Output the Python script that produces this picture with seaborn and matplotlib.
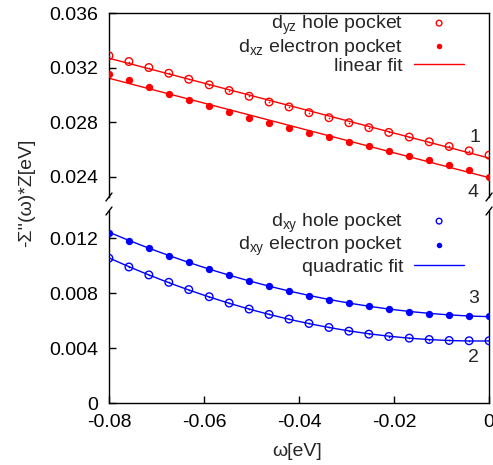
import numpy as np
import matplotlib.pyplot as plt
import seaborn as sns

# frequency grid (eV)
omega = [-0.0800, -0.0758, -0.0716, -0.0674, -0.0632, -0.0589, -0.0547, -0.0505,
         -0.0463, -0.0421, -0.0379, -0.0337, -0.0295, -0.0253, -0.0211, -0.0168,
         -0.0126, -0.0084, -0.0042, 0.0]

# -Sigma''(w)*Z
dyz_hole = [0.03286, 0.03244, 0.03200, 0.03158, 0.03114, 0.03073, 0.03031, 0.02989,
            0.02947, 0.02911, 0.02869, 0.02832, 0.02795, 0.02759, 0.02724, 0.02690,
            0.02655, 0.02621, 0.02589, 0.02557]
dxz_elec = [0.03153, 0.03107, 0.03058, 0.03009, 0.02962, 0.02918, 0.02874, 0.02832,
            0.02795, 0.02759, 0.02722, 0.02687, 0.02653, 0.02621, 0.02587, 0.02552,
            0.02518, 0.02484, 0.02445, 0.02400]
dxy_hole = [0.01056, 0.00992, 0.00934, 0.00880, 0.00827, 0.00775, 0.00729, 0.00685,
            0.00646, 0.00612, 0.00580, 0.00551, 0.00524, 0.00502, 0.00485, 0.00473,
            0.00463, 0.00456, 0.00454, 0.00454]
dxy_elec = [0.01243, 0.01185, 0.01129, 0.01075, 0.01027, 0.00980, 0.00934, 0.00892,
            0.00853, 0.00819, 0.00783, 0.00754, 0.00727, 0.00705, 0.00683, 0.00666,
            0.00651, 0.00644, 0.00637, 0.00632]

xticks = [-0.08, -0.06, -0.04, -0.02, 0]
xticklabels = ["-0.08", "-0.06", "-0.04", "-0.02", "0"]
top_yticks = [0.024, 0.028, 0.032, 0.036]
top_yticklabels = ["0.024", "0.028", "0.032", "0.036"]
bot_yticks = [0, 0.004, 0.008, 0.012]
bot_yticklabels = ["0", "0.004", "0.008", "0.012"]

sns.set_theme(style="ticks")
plt.rcParams['font.family'] = ['Liberation Sans', 'DejaVu Sans']
plt.rcParams['mathtext.fontset'] = 'custom'
plt.rcParams['mathtext.rm'] = 'Liberation Sans'
plt.rcParams['font.size'] = 14

fig = plt.figure(figsize=(4.93, 4.65), dpi=100)
ax_top = fig.add_axes([0.221, 0.5763, 0.771, 0.3957])
ax_bot = fig.add_axes([0.221, 0.1333, 0.771, 0.4129])

xfit = np.linspace(-0.08, 0, 200)


def draw(ax, y_open, y_fill, color, deg, labels):
    fit1 = np.polyval(np.polyfit(omega, y_open, deg), xfit)
    fit2 = np.polyval(np.polyfit(omega, y_fill, deg), xfit)
    sns.lineplot(x=xfit, y=fit1, ax=ax, color=color, linewidth=1.0, label=labels[2])
    sns.lineplot(x=xfit, y=fit2, ax=ax, color=color, linewidth=1.0)
    sns.scatterplot(x=omega, y=y_open, ax=ax, marker='o', s=30, facecolor='none',
                    edgecolor=color, linewidth=1.0, label=labels[0], zorder=3)
    sns.scatterplot(x=omega, y=y_open, ax=ax, marker='o', s=1.5, color=color,
                    edgecolor=color, linewidth=0, zorder=3)
    sns.scatterplot(x=omega, y=y_fill, ax=ax, marker='o', s=28, color=color,
                    edgecolor=color, linewidth=0, label=labels[1], zorder=3)
    h, l = ax.get_legend_handles_labels()
    order = [l.index(labels[0]), l.index(labels[1]), l.index(labels[2])]
    ax.legend([h[i] for i in order], [l[i] for i in order], loc='upper right',
              bbox_to_anchor=(0.935, 1.0), frameon=False, markerfirst=False,
              handlelength=2.6, handletextpad=0.55, labelspacing=0.0,
              borderaxespad=0.0, borderpad=0.0, markerscale=0.75, fontsize=14)


draw(ax_top, dyz_hole, dxz_elec, 'red', 1,
     [r"d$_{\mathregular{yz}}$ hole pocket", r"d$_{\mathregular{xz}}$ electron pocket", "linear fit"])
draw(ax_bot, dxy_hole, dxy_elec, 'blue', 2,
     [r"d$_{\mathregular{xy}}$ hole pocket", r"d$_{\mathregular{xy}}$ electron pocket", "quadratic fit"])

for ax in (ax_top, ax_bot):
    ax.set_xlim(-0.08, 0)
    ax.set_xticks(xticks)
    ax.tick_params(direction='in', length=5, width=1, color='black', pad=8,
                   labelsize=14, labelcolor='black')
    for s in ax.spines.values():
        s.set_color('black')
        s.set_linewidth(1.0)

ax_top.set_ylim(0.0225, 0.036)
ax_top.set_yticks(top_yticks)
ax_top.set_yticklabels(top_yticklabels)
ax_top.spines['bottom'].set_visible(False)
ax_top.tick_params(axis='x', bottom=False, labelbottom=False)

ax_bot.set_ylim(0, 0.014)
ax_bot.set_yticks(bot_yticks)
ax_bot.set_yticklabels(bot_yticklabels)
ax_bot.set_xticklabels(xticklabels)
ax_bot.spines['top'].set_visible(False)

# break marks
for ax, y0 in ((ax_top, 0.0), (ax_bot, 1.0)):
    bb = ax.get_position()
    dx = 3 / (bb.width * 493)
    dy = 4 / (bb.height * 465)
    for x0 in (0.0, 1.0):
        ax.plot([x0 - dx, x0 + dx], [y0 - dy, y0 + dy], transform=ax.transAxes,
                color='black', linewidth=1.0, clip_on=False)

# curve numbers
ax_top.text(-0.0029, 0.0269, "1", ha='center', va='center', fontsize=14)
ax_top.text(-0.0033, 0.0228, "4", ha='center', va='center', fontsize=14)
ax_bot.text(-0.0033, 0.0076, "3", ha='center', va='center', fontsize=14)
ax_bot.text(-0.0033, 0.0033, "2", ha='center', va='center', fontsize=14)

fig.text(0.055, 0.585, "-Σ''(ω)*Z[eV]", rotation=90, ha='center', va='center', fontsize=14)
fig.text(0.603, 0.028, "ω[eV]", ha='center', va='center', fontsize=14)

fig.savefig("out.png", dpi=100)
